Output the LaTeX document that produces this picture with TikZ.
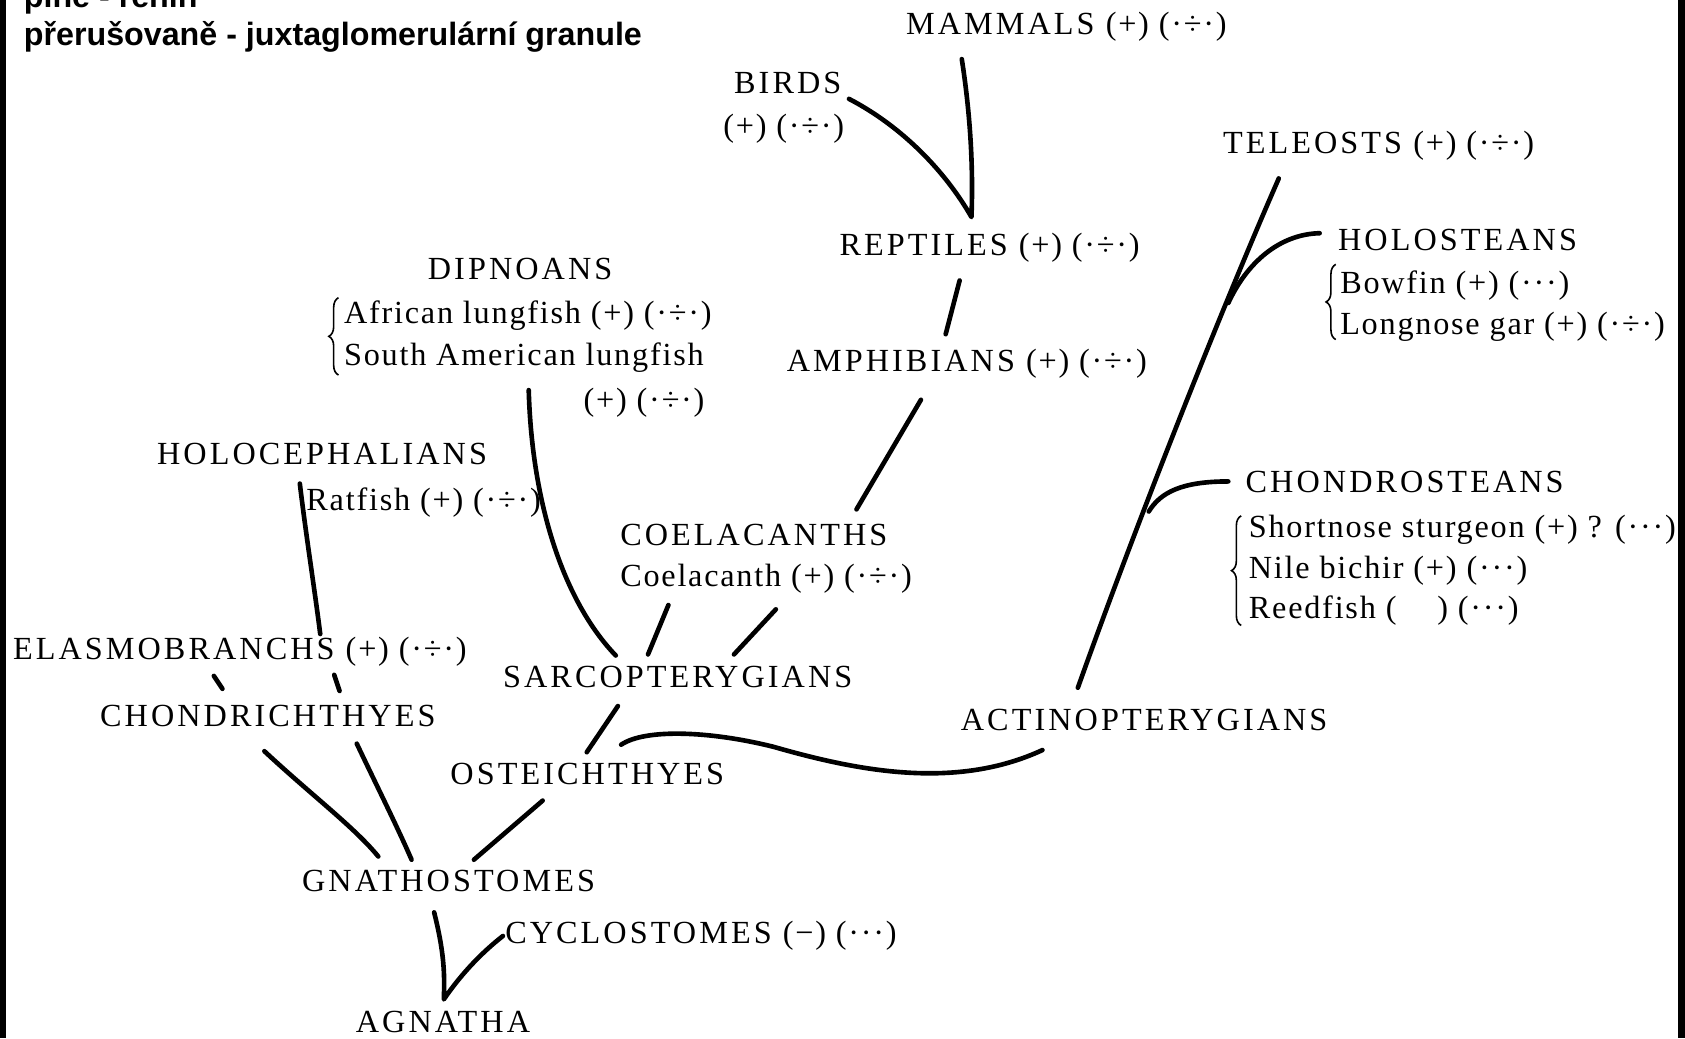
\documentclass[tikz,border=0pt]{standalone}
\usepackage{fontspec}
\setmainfont{Liberation Serif}
\newfontfamily\capsf[LetterSpace=9.5]{Liberation Serif}
\newfontfamily\lowf[LetterSpace=5.5]{Liberation Serif}
\newfontfamily\hdrf{Liberation Sans}
\usetikzlibrary{decorations.pathreplacing}
\begin{document}
\begin{tikzpicture}[x=1pt,y=-1pt,
  caps/.style={anchor=base west, inner sep=0pt, font=\capsf\fontsize{30}{36}\selectfont},
  sub/.style={anchor=base west, inner sep=0pt, font=\lowf\fontsize{30}{36}\selectfont},
  hdr/.style={anchor=base west, inner sep=0pt, font=\hdrf\bfseries\fontsize{30}{34}\selectfont},
  branch/.style={line width=4.3pt, line cap=round, line join=round},
  tick/.style={line width=4.3pt, line cap=round},
  brc/.style={decorate, decoration={brace, amplitude=9pt}, line width=1.5pt},
  bar/.style={fill=black, draw=none}]
\useasboundingbox (0,0) rectangle (1568,966);
\fill[white] (0,0) rectangle (1568,966);

% header
\node[hdr] (h1) at (22,7) {plně - renin};
\node[hdr] (h2) at (22,42) {přerušovaně - juxtaglomerulární granule};

% taxa
\node[caps] (mammals) at (843,32) {MAMMALS {\lowf(+) (·÷·)}};
\node[caps] (birds) at (683,87) {BIRDS};
\node[sub] (birdsym) at (673,127) {(+) (·÷·)};
\node[caps] (teleosts) at (1138,143) {TELEOSTS {\lowf(+) (·÷·)}};
\node[caps] (holosteans) at (1245,233) {HOLOSTEANS};
\node[sub] (bowfin) at (1247,273) {Bowfin (+) (···)};
\node[sub] (longnose) at (1247,311) {Longnose gar (+) (·÷·)};
\node[caps] (reptiles) at (781,238) {REPTILES {\lowf(+) (·÷·)}};
\node[caps] (dipnoans) at (398,260) {DIPNOANS};
\node[sub] (african) at (320,301) {African lungfish (+) (·÷·)};
\node[sub] (southam) at (320,340) {South American lungfish};
\node[sub] (southamsym) at (543,382) {(+) (·÷·)};
\node[caps] (amphibians) at (732,346) {AMPHIBIANS {\lowf(+) (·÷·)}};
\node[caps] (holoceph) at (146,432) {HOLOCEPHALIANS};
\node[sub] (ratfish) at (285,475) {Ratfish (+) (·÷·)};
\node[caps] (chondrosteans) at (1159,458) {CHONDROSTEANS};
\node[sub] (shortnose) at (1162,500) {Shortnose sturgeon (+) ? (···)};
\node[sub] (nile) at (1162,538) {Nile bichir (+) (···)};
\node[sub] (reedfish) at (1162,576) {Reedfish (\hspace{38pt}) (···)};
\node[caps] (coelacanths) at (577,508) {COELACANTHS};
\node[sub] (coelacanth) at (577,546) {Coelacanth (+) (·÷·)};
\node[caps] (elasmo) at (12,614) {ELASMOBRANCHS {\lowf(+) (·÷·)}};
\node[caps] (sarcopt) at (468,640) {SARCOPTERYGIANS};
\node[caps] (chondrich) at (93,676) {CHONDRICHTHYES};
\node[caps] (actino) at (894,680) {ACTINOPTERYGIANS};
\node[caps] (osteich) at (419,730) {OSTEICHTHYES};
\node[caps] (gnath) at (281,830) {GNATHOSTOMES};
\node[caps] (cyclo) at (470,878) {CYCLOSTOMES {\lowf(−) (···)}};
\node[caps] (agnatha) at (331,961) {AGNATHA};

% connector end points
\coordinate (mamS) at (895,55);
\coordinate (birS) at (790,92);
\coordinate (repV) at (904,202);
\coordinate (repB) at (893,261);
\coordinate (amT) at (880,311);
\coordinate (amB) at (857,372);
\coordinate (coT) at (797,474);
\coordinate (coL1) at (622,563);
\coordinate (coL2) at (603,609);
\coordinate (coR1) at (722,567);
\coordinate (coR2) at (683,609);
\coordinate (dipB) at (492,363);
\coordinate (dipE) at (573,610);
\coordinate (holB) at (279,450);
\coordinate (holE) at (298,590);
\coordinate (el1a) at (199,629);
\coordinate (el1b) at (207,641);
\coordinate (el2a) at (311,628);
\coordinate (el2b) at (316,643);
\coordinate (saB) at (575,657);
\coordinate (osT) at (546,700);
\coordinate (swA) at (578,693);
\coordinate (swB) at (720,695);
\coordinate (swE) at (970,698);
\coordinate (acT) at (1003,640);
\coordinate (teB) at (1190,166);
\coordinate (hoE) at (1228,217);
\coordinate (hoJ) at (1143,282);
\coordinate (chE) at (1143,448);
\coordinate (chJ) at (1069,476);
\coordinate (cl1) at (246,699);
\coordinate (cl2) at (352,797);
\coordinate (cr1) at (332,692);
\coordinate (cr2) at (383,800);
\coordinate (ob1) at (505,745);
\coordinate (ob2) at (441,800);
\coordinate (gnB) at (404,849);
\coordinate (agV) at (413,930);
\coordinate (cyE) at (468,871);

% connectors
\draw[branch] (birS) .. controls (840,118) and (880,160) .. (repV)
               .. controls (906,150) and (902,100) .. (mamS);
\draw[branch] (repB) -- (amT);
\draw[branch] (amB) -- (coT);
\draw[branch] (coL1) -- (coL2);
\draw[branch] (coR1) -- (coR2);
\draw[branch] (dipB) .. controls (495,470) and (525,560) .. (dipE);
\draw[branch] (holB) .. controls (285,500) and (293,550) .. (holE);
\draw[tick] (el1a) -- (el1b);
\draw[tick] (el2a) -- (el2b);
\draw[branch] (saB) -- (osT);
\draw[branch] (swA) .. controls (600,678) and (660,680) .. (swB)
               .. controls (800,718) and (890,735) .. (swE);
\draw[branch] (acT) .. controls (1060,480) and (1140,280) .. (teB);
\draw[branch] (hoE) .. controls (1190,218) and (1160,245) .. (hoJ);
\draw[branch] (chE) .. controls (1100,448) and (1080,458) .. (chJ);
\draw[branch] (cl1) .. controls (290,740) and (330,770) .. (cl2);
\draw[branch] (cr1) .. controls (350,730) and (370,770) .. (cr2);
\draw[branch] (ob1) -- (ob2);
\draw[branch] (gnB) .. controls (413,885) and (414,905) .. (agV)
               .. controls (430,905) and (450,885) .. (cyE);

% braces
\draw[brc] (315,349) -- (315,277);
\draw[brc] (1243,316) -- (1243,246);
\draw[brc] (1155,582) -- (1155,480);

% black edge strips
\fill[bar] (0,0) rectangle (5.5,966);
\fill[bar] (1561.5,0) rectangle (1568,966);
\end{tikzpicture}
\end{document}
